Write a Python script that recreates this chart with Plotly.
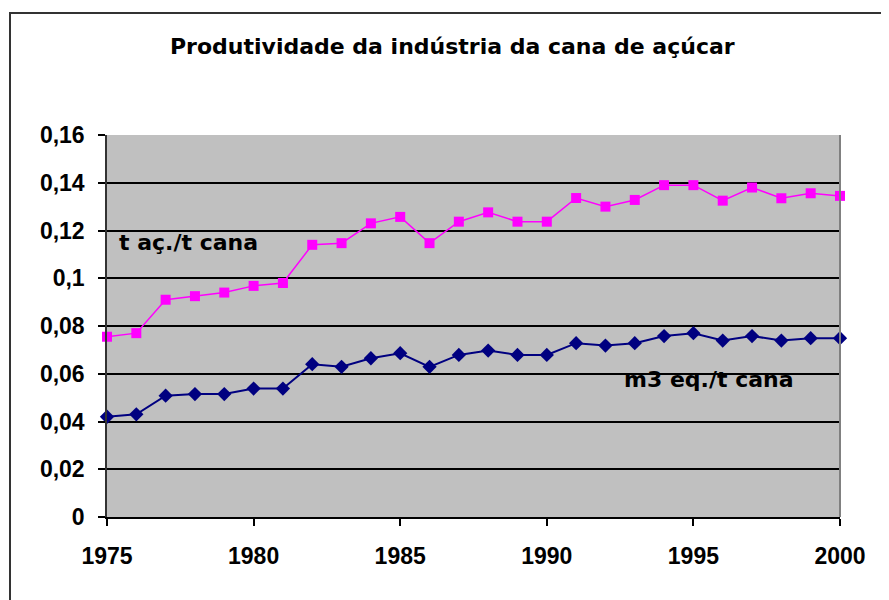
import plotly.graph_objects as go

years = list(range(1975, 2001))
acucar = [0.0755, 0.077, 0.091, 0.0925, 0.094, 0.0968, 0.098, 0.114, 0.1147, 0.123, 0.1257,
          0.1147, 0.1237, 0.1276, 0.1237, 0.1237, 0.1336, 0.130, 0.1328, 0.139, 0.139,
          0.1325, 0.138, 0.1335, 0.1356, 0.1345]
alcool = [0.042, 0.043, 0.0508, 0.0515, 0.0515, 0.0538, 0.0538, 0.064, 0.0629, 0.0665, 0.0686,
          0.0629, 0.0679, 0.0697, 0.0679, 0.0679, 0.0728, 0.0718, 0.0728, 0.0758, 0.077,
          0.0739, 0.0758, 0.0739, 0.0749, 0.0749]
x_ticks = [1975, 1980, 1985, 1990, 1995, 2000]
y_ticks = [0, 0.02, 0.04, 0.06, 0.08, 0.10, 0.12, 0.14, 0.16]
y_ticktext = ["0", "0,02", "0,04", "0,06", "0,08", "0,1", "0,12", "0,14", "0,16"]
title_text = "Produtividade da indústria da cana de açúcar"
label_acucar = "t aç./t cana"
label_alcool = "m3 eq./t cana"

# page offset (browser body margin)
OFF = 8
L, R, T, B = 107 - OFF, 840 - OFF, 135 - OFF, 517 - OFF
W, H = 889, 600
PW, PH = R - L, B - T

def px_x(p):
    return (p - OFF - L) / PW

def px_y(p):
    return (B - (p - OFF)) / PH

fig = go.Figure()
fig.add_trace(go.Scatter(x=years, y=acucar, mode="lines+markers",
                         line=dict(color="#FF00FF", width=1.5),
                         marker=dict(symbol="square", size=10, color="#FF00FF"),
                         cliponaxis=False, showlegend=False))
fig.add_trace(go.Scatter(x=years, y=alcool, mode="lines+markers",
                         line=dict(color="#000080", width=2),
                         marker=dict(symbol="diamond", size=11, color="#000080"),
                         cliponaxis=False, showlegend=False))

axis_font = dict(family="Liberation Sans, Arial, sans-serif", size=23, color="black", weight="bold")

fig.update_layout(
    width=W, height=H,
    margin=dict(l=L, r=W - R, t=T, b=H - B, pad=0),
    paper_bgcolor="white", plot_bgcolor="#C0C0C0",
    xaxis=dict(range=[1975, 2000], tickvals=x_ticks, ticktext=[str(v) for v in x_ticks],
               showgrid=False, zeroline=False, showline=True, linecolor="black", linewidth=2,
               ticks="outside", ticklen=7, tickcolor="black", tickwidth=1.5,
               tickfont=axis_font, ticklabelstandoff=10),
    yaxis=dict(range=[0, 0.16], tickvals=y_ticks, ticktext=y_ticktext,
               showgrid=True, gridcolor="black", gridwidth=2, zeroline=False,
               showline=True, linecolor="#333333", linewidth=1.5,
               ticks="outside", ticklen=7, tickcolor="black", tickwidth=1.5,
               tickfont=axis_font, ticklabelstandoff=9),
    annotations=[
        dict(text=title_text, xref="paper", yref="paper",
             x=px_x(452), y=px_y(47), xanchor="center", yanchor="middle",
             showarrow=False,
             font=dict(family="DejaVu Sans, sans-serif", size=22, color="black", weight="bold")),
        dict(text=label_acucar, xref="x", yref="y", x=1975.35, y=0.1148,
             xanchor="left", yanchor="middle", showarrow=False,
             font=dict(family="DejaVu Sans, sans-serif", size=22, color="black", weight="bold")),
        dict(text=label_alcool, xref="x", yref="y", x=1992.55, y=0.0574,
             xanchor="left", yanchor="middle", showarrow=False,
             font=dict(family="DejaVu Sans, sans-serif", size=22, color="black", weight="bold")),
    ],
    shapes=[
        dict(type="line", xref="x domain", yref="y domain", x0=1, x1=1, y0=0, y1=1,
             line=dict(color="#808080", width=2)),
        dict(type="rect", xref="paper", yref="paper",
             x0=px_x(10), x1=px_x(905),
             y0=px_y(615), y1=px_y(13),
             line=dict(color="#333333", width=2), fillcolor="rgba(0,0,0,0)"),
    ],
)

fig.write_html("out.html")
